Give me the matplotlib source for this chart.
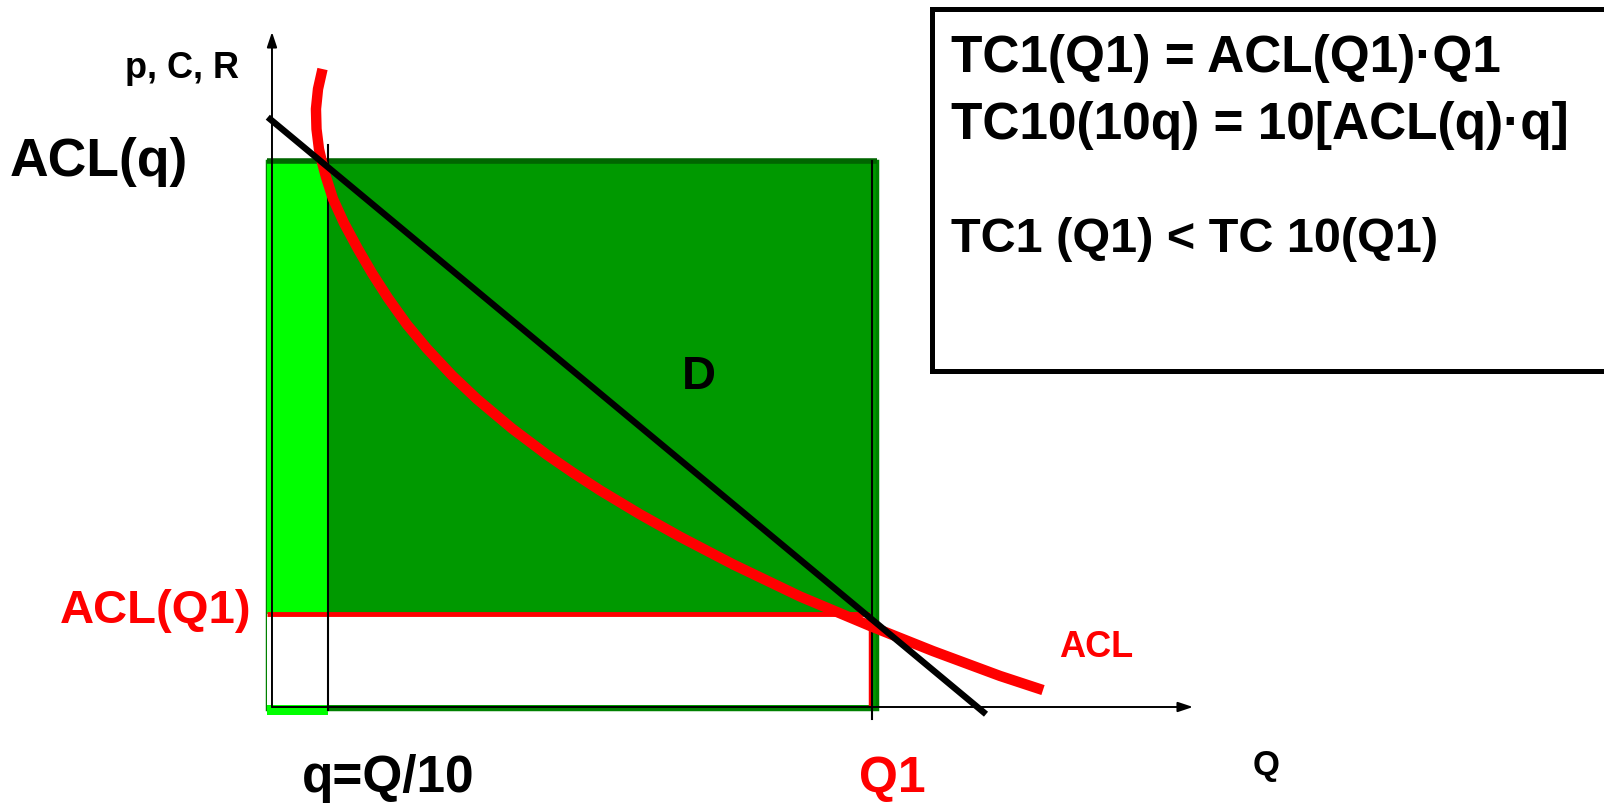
"""Average cost of one large firm vs ten small ones (ACL curve, demand D)."""

import matplotlib

matplotlib.use("Agg")
import matplotlib.pyplot as plt
from matplotlib.patches import Rectangle

# --- diagram values (Q1 = 10 units, q = Q1/10) ---
Q1 = 10.0
q_small = 0.93
acl_q = 9.1        # ACL at q
acl_Q1 = 1.55      # ACL at Q1

# ACL curve
acl_x = [0.842, 0.767, 0.733, 0.742, 0.783, 0.833, 0.9, 1.017, 1.2, 1.433, 1.667,
         1.933, 2.25, 2.583, 3.0, 3.417, 4.0, 4.583, 5.017, 5.467, 6.133, 6.8,
         7.683, 8.8, 10.0, 11.017, 12.133, 12.85]
acl_y = [10.633, 10.3, 9.967, 9.633, 9.3, 9.083, 8.833, 8.467, 8.067, 7.633, 7.232,
         6.817, 6.373, 5.973, 5.527, 5.132, 4.642, 4.203, 3.905, 3.612, 3.212, 2.838,
         2.378, 1.842, 1.338, 0.932, 0.518, 0.282]

# demand line D
demand_x = [-0.07, 11.9]
demand_y = [9.83, -0.12]

box_lines = ["TC1(Q1) = ACL(Q1)\u00b7Q1",
             "TC10(10q) = 10[ACL(q)\u00b7q]",
             "TC1 (Q1) < TC 10(Q1)"]

RED = "#FF0000"
DARK_GREEN = "#009900"
LIGHT_GREEN = "#00FF00"

plt.rcParams["font.family"] = ["Liberation Sans", "DejaVu Sans"]
plt.rcParams["font.weight"] = "bold"


def main() -> None:
    fig = plt.figure(figsize=(16.04, 8.04), dpi=100)
    ax = fig.add_axes([0, 0, 1, 1])
    ax.set_xlim(-4.533, 22.2)
    ax.set_ylim(-1.6, 11.8)
    ax.axis("off")

    left = -0.09
    # shaded areas
    ax.add_patch(Rectangle((left, -0.03), Q1 + 0.09 - left, acl_q + 0.03,
                           facecolor=DARK_GREEN, edgecolor="#008000", lw=2.5, zorder=1))
    ax.add_patch(Rectangle((left, -0.13), q_small - left, acl_q + 0.13,
                           facecolor=LIGHT_GREEN, edgecolor="none", zorder=2))
    ax.add_patch(Rectangle((left, 0.03), Q1 - 0.04 - left, acl_Q1 - 0.03,
                           facecolor="white", edgecolor="none", zorder=3))
    ax.plot([left, Q1 + 0.09], [acl_q, acl_q], color="#006600", lw=4,
            solid_capstyle="butt", zorder=4)

    # ACL(Q1) level lines
    ax.plot([left, Q1 - 0.05], [acl_Q1, acl_Q1], color=RED, lw=3.5,
            solid_capstyle="butt", zorder=5)
    ax.plot([Q1 - 0.03, Q1 - 0.03], [0, acl_Q1], color=RED, lw=2.5,
            solid_capstyle="butt", zorder=5)

    # axes with arrows
    arrow = dict(arrowstyle="-|>,head_length=0.45,head_width=0.15", color="black",
                 lw=1.4, mutation_scale=20, shrinkA=0, shrinkB=0)
    ax.annotate("", xy=(0, 11.25), xytext=(0, 0), arrowprops=arrow, zorder=6)
    ax.annotate("", xy=(15.35, 0), xytext=(0, 0), arrowprops=arrow, zorder=6)

    # q and Q1 markers
    ax.plot([q_small, q_small], [9.37, -0.05], color="black", lw=1.5, zorder=6)
    ax.plot([Q1, Q1], [acl_q, -0.2], color="black", lw=1.5, zorder=6)

    # curves
    ax.plot(acl_x, acl_y, color=RED, lw=7.5, solid_capstyle="butt", zorder=7)
    ax.plot(demand_x, demand_y, color="black", lw=4.6, solid_capstyle="butt", zorder=8)

    # labels
    ax.text(-1.5, 10.5, "p, C, R", fontsize=26, ha="center", va="baseline")
    ax.text(-4.37, 8.86, "ACL(q)", fontsize=38.5, ha="left", va="baseline")
    ax.text(-0.35, 1.42, "ACL(Q1)", fontsize=34, color=RED, ha="right", va="baseline")
    ax.text(0.5, -1.4, "q=Q/10", fontsize=37, ha="left", va="baseline")
    ax.text(9.78, -1.4, "Q1", fontsize=36, color=RED, ha="left", va="baseline")
    ax.text(6.83, 5.32, "D", fontsize=34, ha="left", va="baseline", zorder=9)
    ax.text(13.12, 0.85, "ACL", fontsize=26, color=RED, ha="left", va="baseline")
    ax.text(16.35, -1.12, "Q", fontsize=25, ha="left", va="baseline")

    # formula box
    ax.add_patch(Rectangle((11.0, 5.6), 12.5, 6.03, facecolor="white",
                           edgecolor="black", lw=3.6, zorder=10, clip_on=False))
    for text, y, size in zip(box_lines, [10.6, 9.48, 7.6], [37, 37, 35]):
        ax.text(11.32, y, text, fontsize=size, ha="left", va="baseline", zorder=11)

    fig.savefig("out.png", dpi=100)


if __name__ == "__main__":
    main()
